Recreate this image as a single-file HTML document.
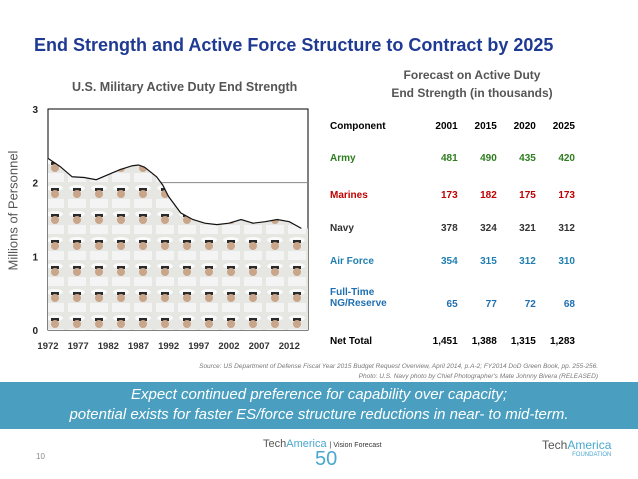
<!DOCTYPE html>
<html><head><meta charset="utf-8"><style>
body{margin:0;width:638px;height:479px;background:#fff;font-family:"Liberation Sans",sans-serif;position:relative;overflow:hidden}
.a{position:absolute;white-space:nowrap}
.t td{padding:0}
</style></head><body>
<div class="a" style="left:34px;top:35px;font-size:18px;font-weight:bold;color:#1f3a93">End Strength and Active Force Structure to Contract by 2025</div>
<div class="a" style="left:72px;top:80px;font-size:12.5px;font-weight:bold;color:#555">U.S. Military Active Duty End Strength</div>
<svg class="a" style="left:0;top:0" width="638" height="479">
<defs><pattern id="pp" width="22" height="26" patternUnits="userSpaceOnUse"><rect width="22" height="26" fill="#e6e6e2"/><ellipse cx="11" cy="6" rx="8" ry="3" fill="#fafafa"/><rect x="7" y="6" width="8" height="3" fill="#2a2a2a"/><ellipse cx="11" cy="12" rx="4" ry="4" fill="#c9a58a"/><rect x="2" y="17" width="18" height="9" fill="#f4f4f4"/></pattern></defs>
<g id="g"></g>
</svg>
<div class="a" style="left:-42px;top:208px;width:110px;text-align:center;transform:rotate(-90deg);font-size:13px;color:#555">Millions of Personnel</div>
<div class="a" style="right:40px;top:362px;font-size:6.5px;font-style:italic;color:#777;text-align:right;line-height:10px">Source: US Department of Defense Fiscal Year 2015 Budget Request Overview, April 2014, p.A-2; FY2014 DoD Green Book, pp. 255-256.<br>Photo: U.S. Navy photo by Chief Photographer's Mate Johnny Bivera (RELEASED)</div>
<div class="a" style="left:372px;top:66px;width:200px;text-align:center;font-size:12px;font-weight:bold;color:#555;line-height:18px">Forecast on Active Duty<br>End Strength (in thousands)</div>
<table class="a t" style="left:330px;top:115px;width:245px;border-collapse:collapse;font-size:10px;font-weight:bold">
<tr style="height:22px"><td>Component</td><td align="right">2001</td><td align="right">2015</td><td align="right">2020</td><td align="right">2025</td></tr>
<tr style="height:42px;color:#2e7d1e"><td>Army</td><td align="right">481</td><td align="right">490</td><td align="right">435</td><td align="right">420</td></tr>
<tr style="height:33px;color:#c00000"><td>Marines</td><td align="right">173</td><td align="right">182</td><td align="right">175</td><td align="right">173</td></tr>
<tr style="height:33px;color:#333"><td>Navy</td><td align="right">378</td><td align="right">324</td><td align="right">321</td><td align="right">312</td></tr>
<tr style="height:33px;color:#1f7fb0"><td>Air Force</td><td align="right">354</td><td align="right">315</td><td align="right">312</td><td align="right">310</td></tr>
<tr style="height:40px;color:#1f6fb0"><td>Full-Time<br>NG/Reserve</td><td align="right" style="padding-top:12px">65</td><td align="right" style="padding-top:12px">77</td><td align="right" style="padding-top:12px">72</td><td align="right" style="padding-top:12px">68</td></tr>
<tr style="height:46px;color:#000"><td>Net Total</td><td align="right">1,451</td><td align="right">1,388</td><td align="right">1,315</td><td align="right">1,283</td></tr>
</table>
<div class="a" style="left:0;top:382px;width:638px;height:44px;background:#4a9fc0;color:#fff;font-style:italic;font-size:15px;text-align:center;line-height:20px;padding-top:3px">Expect continued preference for capability over capacity;<br>potential exists for faster ES/force structure reductions in near- to mid-term.</div>
<div class="a" style="left:36px;top:452px;font-size:8px;color:#888">10</div>
<div class="a" style="left:263px;top:438px;font-size:11px;color:#555">Tech<span style="color:#4aa8d0">America</span> <span style="font-size:7px;color:#333">| Vision Forecast</span></div>
<div class="a" style="left:315px;top:448px;font-size:20px;color:#4aa8d0">50</div>
<div class="a" style="left:542px;top:438px;font-size:12px;color:#555">Tech<span style="color:#4aa8d0">America</span><div style="font-size:6px;text-align:right;color:#4aa8d0">FOUNDATION</div></div>
<script>
const years=[1972,1974,1976,1978,1980,1982,1984,1986,1987,1988,1990,1991,1992,1994,1996,1998,2000,2002,2004,2006,2008,2010,2012,2014];
const values=[2.33,2.22,2.08,2.07,2.04,2.11,2.18,2.23,2.24,2.21,2.08,1.97,1.81,1.59,1.50,1.45,1.43,1.45,1.50,1.45,1.47,1.50,1.47,1.38];
const yTicks=[0,1,2,3];
const xTicks=[1972,1977,1982,1987,1992,1997,2002,2007,2012];
const NS="http://www.w3.org/2000/svg";
const X0=48,X1=308,Y0=330,Y1=109;
function sx(v){return X0+(v-1972)*(X1-X0)/43.1;}
function sy(v){return Y0-(v/3)*(Y0-Y1);}
const g=document.getElementById('g');
function mk(t,a){const e=document.createElementNS(NS,t);for(const k in a)e.setAttribute(k,a[k]);g.appendChild(e);return e;}
const bx=mk('rect',{x:X0,y:Y1,width:X1-X0,height:Y0-Y1,fill:'#fff',stroke:'#000','stroke-width':1});


const gl=mk('line',{x1:X0,x2:X1,y1:sy(2),y2:sy(2),stroke:'#888','stroke-width':1});


let d='M'+sx(years[0])+','+Y0;
years.forEach((y,i)=>{d+=' L'+sx(y)+','+sy(values[i]);});
d+=' L'+X1+','+sy(values[values.length-1])+' L'+X1+','+Y0+' Z';
const ar=mk('path',{d:d,fill:'url(#pp)'});


let ld='';years.forEach((y,i)=>{ld+=(i?' L':'M')+sx(y)+','+sy(values[i]);});
const ln=mk('path',{d:ld,fill:'none',stroke:'#111','stroke-width':1.2});


yTicks.forEach(v=>{const t=mk('text',{x:X0-10,y:sy(v)+4,'text-anchor':'end','font-size':10,'font-weight':'bold',fill:'#222'});t.textContent=v;

});
xTicks.forEach(v=>{const t=mk('text',{x:sx(v),y:Y0+19,'text-anchor':'middle','font-size':9.5,'font-weight':'bold',fill:'#333'});t.textContent=v;

});
</script>
</body></html>
